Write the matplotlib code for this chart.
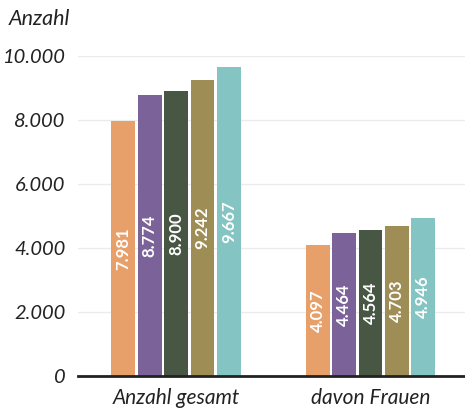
import matplotlib
matplotlib.use("Agg")
import matplotlib.pyplot as plt
import numpy as np

categories = ["Anzahl gesamt", "davon Frauen"]
series_values = [
    [7981, 4097],
    [8774, 4464],
    [8900, 4564],
    [9242, 4703],
    [9667, 4946],
]
colors = ["#E8A06A", "#7B6399", "#485644", "#9E8D55", "#84C4C2"]
y_ticks = [0, 2000, 4000, 6000, 8000, 10000]
y_tick_labels = ["0", "2.000", "4.000", "6.000", "8.000", "10.000"]
value_labels = [[f"{v:,}".replace(",", ".") for v in s] for s in series_values]

plt.rcParams["font.family"] = ["Lato", "DejaVu Sans"]

fig = plt.figure(figsize=(4.65, 4.09), dpi=100)
ax = fig.add_axes([78 / 465, 1 - 376 / 409, 1 - 78 / 465, (376 - 56) / 409])

x = np.arange(len(categories))
pitch = 0.136
width = 0.123
n = len(series_values)
for i, (vals, col, labs) in enumerate(zip(series_values, colors, value_labels)):
    pos = x + (i - (n - 1) / 2) * pitch
    bars = ax.bar(pos, vals, width=width, color=col, zorder=3)
    for b, v, lab in zip(bars, vals, labs):
        ax.text(b.get_x() + b.get_width() / 2, v / 2, lab, rotation=90,
                ha="center", va="center", color="white", fontsize=12,
                fontweight="bold", zorder=4)

ax.set_xlim(-0.504, 1.486)
ax.set_ylim(0, 10000)
ax.set_yticks(y_ticks)
ax.set_yticklabels(y_tick_labels, fontsize=14.5, style="italic",
                   color="#222222")
ax.set_xticks(x)
ax.set_xticklabels(categories, fontsize=15, style="italic",
                   color="#222222")
ax.tick_params(axis="y", length=0, pad=9)
ax.tick_params(axis="x", length=0, pad=9)
ax.grid(axis="y", color="#ebebeb", linewidth=1, zorder=0)
for s in ["top", "right", "left"]:
    ax.spines[s].set_visible(False)
ax.spines["bottom"].set_linewidth(2)
ax.spines["bottom"].set_color("#222222")
ax.spines["bottom"].set_zorder(5)

fig.text(9 / 465, 1 - 25 / 409, "Anzahl", fontsize=15.5, style="italic",
         color="#222222", ha="left", va="baseline")

fig.savefig("out.png", dpi=100)
